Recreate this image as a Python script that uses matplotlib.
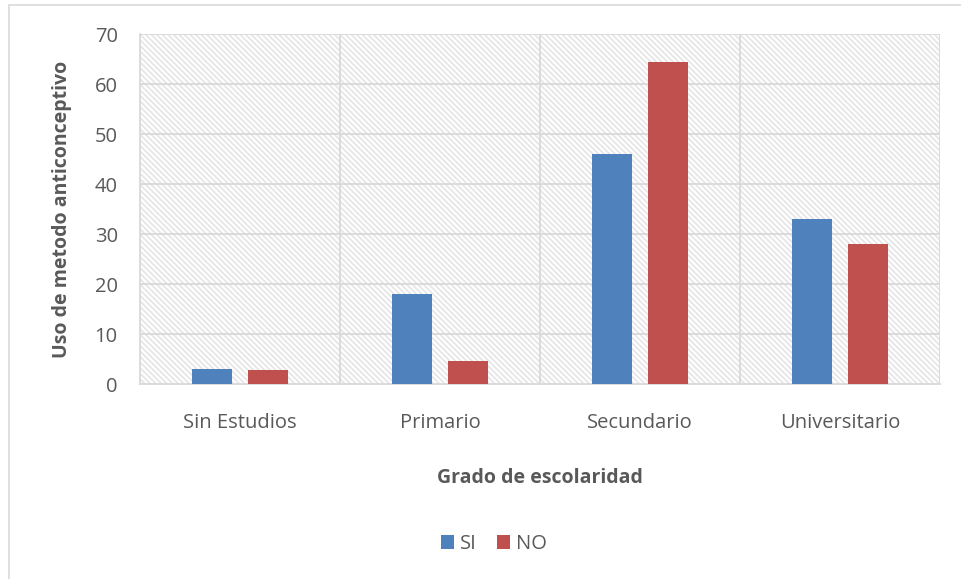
import numpy as np
import matplotlib.pyplot as plt
from matplotlib.patches import Rectangle

categorias = ['Sin Estudios', 'Primario', 'Secundario', 'Universitario']
si = [3, 18, 46, 33]
no = [2.8, 4.7, 64.5, 28]

plt.rcParams['font.family'] = ['Open Sans', 'DejaVu Sans']
plt.rcParams['hatch.linewidth'] = 1.3

gris = '#595959'
linea = '#d9d9d9'

fig = plt.figure(figsize=(9.61, 5.79), dpi=100)
ax = fig.add_axes([140 / 961, 195 / 579, 800 / 961, 350 / 579])

# marco exterior del grafico
fig.patches.append(Rectangle((9 / 961, -0.1), 1.2, (579 - 5) / 579 + 0.1,
                             transform=fig.transFigure, fill=False,
                             edgecolor=linea, linewidth=1.2))

# fondo rayado del area de trazado
ax.add_patch(Rectangle((0, 0), 1, 1, transform=ax.transAxes,
                       facecolor='white', edgecolor='#e6e6e6',
                       hatch='\\' * 6, linewidth=0, zorder=0.5))

x = np.arange(len(categorias))
ax.bar(x - 0.14, si, width=0.2, color='#4f81bd', label='SI', zorder=3)
ax.bar(x + 0.14, no, width=0.2, color='#c0504d', label='NO', zorder=3)

ax.set_xlim(-0.5, 3.5)
ax.set_ylim(0, 70)
ax.set_yticks(range(0, 71, 10))
ax.set_xticks(x)
ax.set_xticklabels(categorias)

for v in range(10, 71, 10):
    ax.axhline(v, color=linea, linewidth=1.3, zorder=1)
for v in [0.5, 1.5, 2.5, 3.5]:
    ax.axvline(v, color=linea, linewidth=1.3, zorder=1)

for s in ['top', 'right']:
    ax.spines[s].set_visible(False)
for s in ['left', 'bottom']:
    ax.spines[s].set_color(linea)
    ax.spines[s].set_linewidth(1.3)

ax.tick_params(length=0, colors=gris, labelsize=14.5)
ax.tick_params(axis='x', pad=21)
ax.tick_params(axis='y', pad=16)

ax.set_xlabel('Grado de escolaridad', fontsize=14, fontweight='bold',
              color=gris, labelpad=25)
ax.set_ylabel('Uso de metodo anticonceptivo', fontsize=14, fontweight='bold',
              color=gris, labelpad=16)

ax.legend(loc='center', bbox_to_anchor=(494 / 961, (579 - 544) / 579),
          bbox_transform=fig.transFigure, ncol=2, frameon=False,
          fontsize=14.5, labelcolor=gris, handlelength=0.65, handleheight=0.65,
          handletextpad=0.3, columnspacing=1.0)

plt.savefig('out.png', dpi=100)
